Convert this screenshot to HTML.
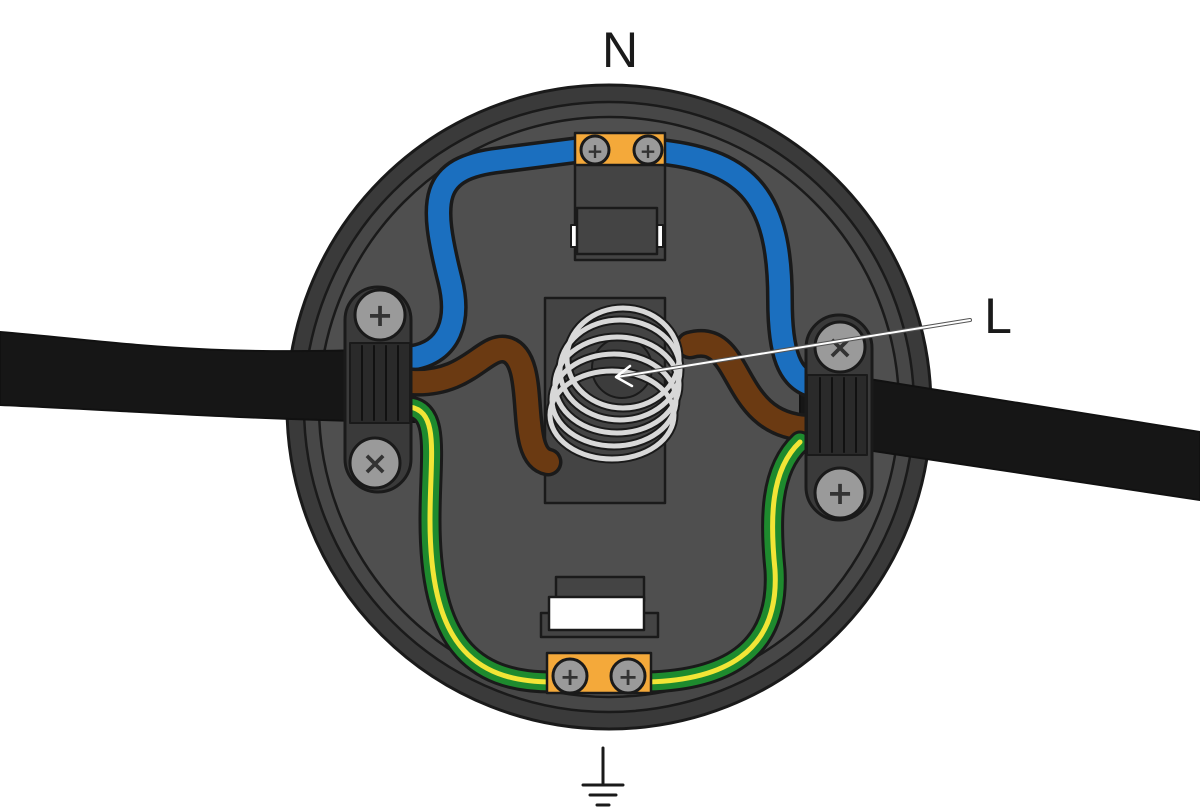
<!DOCTYPE html>
<html><head><style>html,body{margin:0;padding:0;background:#fff}svg{display:block}</style></head>
<body>
<svg width="1200" height="809" viewBox="0 0 1200 809" xmlns="http://www.w3.org/2000/svg" stroke-linejoin="round" stroke-linecap="round">
<rect width="1200" height="809" fill="#fff"/>
<text x="620" y="67" font-family="Liberation Sans, sans-serif" font-size="50" text-anchor="middle" fill="#1a1a1a">N</text>
<text x="998" y="333" font-family="Liberation Sans, sans-serif" font-size="50" text-anchor="middle" fill="#1a1a1a">L</text>
<!-- body -->
<circle cx="609" cy="407" r="322" fill="#3a3a3a" stroke="#1a1a1a" stroke-width="3"/>
<circle cx="609" cy="407" r="305" fill="#474747" stroke="#1a1a1a" stroke-width="2.5"/>
<circle cx="609" cy="407" r="290" fill="#4f4f4f" stroke="#1a1a1a" stroke-width="2.5"/>
<!-- cables -->
<path d="M0,332 C120,342 200,358 415,348 L415,422 C250,420 120,410 0,405 Z" fill="#161616" stroke="#111" stroke-width="2"/>
<path d="M800,368 L1200,432 L1200,500 L800,440 Z" fill="#161616" stroke="#111" stroke-width="2"/>
<!-- center base -->
<rect x="545" y="298" width="120" height="205" fill="#444" stroke="#1a1a1a" stroke-width="2.5"/>
<!-- top terminal box -->
<rect x="575" y="160" width="90" height="100" fill="#444" stroke="#1a1a1a" stroke-width="2.5"/>
<rect x="571" y="225" width="92" height="22" fill="#fff" stroke="#1a1a1a" stroke-width="2"/>
<rect x="577" y="208" width="80" height="46" fill="#444" stroke="#1a1a1a" stroke-width="2.5"/>
<!-- bottom terminal box -->
<rect x="556" y="577" width="88" height="24" fill="#444" stroke="#1a1a1a" stroke-width="2.5"/>
<rect x="541" y="613" width="117" height="24" fill="#444" stroke="#1a1a1a" stroke-width="2.5"/>
<rect x="549" y="597" width="95" height="33" fill="#fff" stroke="#1a1a1a" stroke-width="2.5"/>
<!-- wires -->
<g fill="none">
<path d="M412,358 C450,352 460,320 450,280 C430,200 430,168 500,160 L578,150" stroke="#1a1a1a" stroke-width="28"/>
<path d="M412,358 C450,352 460,320 450,280 C430,200 430,168 500,160 L578,150" stroke="#1b6fbf" stroke-width="21"/>
<path d="M662,152 C750,162 780,200 780,300 C780,355 790,378 812,385" stroke="#1a1a1a" stroke-width="28"/>
<path d="M662,152 C750,162 780,200 780,300 C780,355 790,378 812,385" stroke="#1b6fbf" stroke-width="21"/>
<path d="M412,382 C470,385 485,342 508,350 C540,362 515,455 548,462" stroke="#1a1a1a" stroke-width="29"/>
<path d="M412,382 C470,385 485,342 508,350 C540,362 515,455 548,462" stroke="#6b3a12" stroke-width="22"/>
<path d="M690,345 C745,330 728,425 808,428" stroke="#1a1a1a" stroke-width="29"/>
<path d="M690,345 C745,330 728,425 808,428" stroke="#6b3a12" stroke-width="22"/>
<path d="M410,407 C440,412 430,455 430,520 C430,640 470,682 552,682" stroke="#1a1a1a" stroke-width="23"/>
<path d="M410,407 C440,412 430,455 430,520 C430,640 470,682 552,682" stroke="#1e8a2e" stroke-width="17"/>
<path d="M410,407 C440,412 430,455 430,520 C430,640 470,682 552,682" stroke="#f2e536" stroke-width="5"/>
<path d="M800,442 C770,470 770,520 775,570 C780,655 720,680 648,682" stroke="#1a1a1a" stroke-width="23"/>
<path d="M800,442 C770,470 770,520 775,570 C780,655 720,680 648,682" stroke="#1e8a2e" stroke-width="17"/>
<path d="M800,442 C770,470 770,520 775,570 C780,655 720,680 648,682" stroke="#f2e536" stroke-width="5"/>
</g>
<!-- spring -->
<g fill="none">
<circle cx="622" cy="368" r="30" fill="#3c3c3c" stroke="#1a1a1a" stroke-width="2"/>
<g stroke="#1a1a1a" stroke-width="9">
<ellipse cx="612" cy="415" rx="62" ry="44"/><ellipse cx="614" cy="400" rx="62" ry="46"/><ellipse cx="617" cy="385" rx="62" ry="48"/><ellipse cx="620" cy="370" rx="60" ry="50"/><ellipse cx="623" cy="358" rx="56" ry="50"/></g>
<g stroke="#d8d8d8" stroke-width="5">
<ellipse cx="612" cy="415" rx="62" ry="44"/><ellipse cx="614" cy="400" rx="62" ry="46"/><ellipse cx="617" cy="385" rx="62" ry="48"/><ellipse cx="620" cy="370" rx="60" ry="50"/><ellipse cx="623" cy="358" rx="56" ry="50"/></g>
</g>
<!-- terminals -->
<rect x="575" y="133" width="90" height="32" fill="#f4a93a" stroke="#1a1a1a" stroke-width="2.5"/>
<rect x="547" y="653" width="104" height="40" fill="#f4a93a" stroke="#1a1a1a" stroke-width="2.5"/>
<!-- clamps -->
<rect x="345" y="287" width="66" height="205" rx="33" fill="#3a3a3a" stroke="#1a1a1a" stroke-width="3"/>
<rect x="350" y="343" width="60" height="80" fill="#2a2a2a" stroke="#1a1a1a" stroke-width="2"/>
<g stroke="#111" stroke-width="2"><line x1="362" y1="346" x2="362" y2="420"/><line x1="374" y1="346" x2="374" y2="420"/><line x1="386" y1="346" x2="386" y2="420"/><line x1="398" y1="346" x2="398" y2="420"/></g>
<rect x="806" y="315" width="66" height="205" rx="33" fill="#3a3a3a" stroke="#1a1a1a" stroke-width="3"/>
<rect x="807" y="375" width="60" height="80" fill="#2a2a2a" stroke="#1a1a1a" stroke-width="2"/>
<g stroke="#111" stroke-width="2"><line x1="820" y1="378" x2="820" y2="452"/><line x1="832" y1="378" x2="832" y2="452"/><line x1="844" y1="378" x2="844" y2="452"/><line x1="856" y1="378" x2="856" y2="452"/></g>
<!-- screws -->
<g fill="#9a9a9a" stroke="#1a1a1a" stroke-width="3">
<circle cx="380" cy="315" r="25"/><circle cx="375" cy="463" r="25"/>
<circle cx="840" cy="347" r="25"/><circle cx="840" cy="493" r="25"/>
<circle cx="595" cy="150" r="14"/><circle cx="648" cy="150" r="14"/>
<circle cx="570" cy="676" r="17"/><circle cx="628" cy="676" r="17"/>
</g>
<g font-family="DejaVu Sans, sans-serif" font-weight="bold" fill="#333" text-anchor="middle">
<text x="380" y="326" font-size="32">+</text><text x="375" y="474" font-size="32">×</text>
<text x="840" y="358" font-size="32">×</text><text x="840" y="504" font-size="32">+</text>
<text x="595" y="158" font-size="20">+</text><text x="648" y="158" font-size="20">+</text>
<text x="570" y="685" font-size="24">+</text><text x="628" y="685" font-size="24">+</text>
</g>
<!-- pointer -->
<line x1="970" y1="320" x2="617" y2="377" stroke="#555" stroke-width="4"/>
<line x1="970" y1="320" x2="617" y2="377" stroke="#fff" stroke-width="2"/>
<path d="M630,366 L616,377 L632,386" fill="none" stroke="#fff" stroke-width="2.5"/>
<!-- ground -->
<g stroke="#1a1a1a" stroke-width="3">
<line x1="603" y1="748" x2="603" y2="783"/><line x1="583" y1="785" x2="623" y2="785"/><line x1="590" y1="795" x2="616" y2="795"/><line x1="597" y1="805" x2="609" y2="805"/>
</g>
</svg>
</body></html>
